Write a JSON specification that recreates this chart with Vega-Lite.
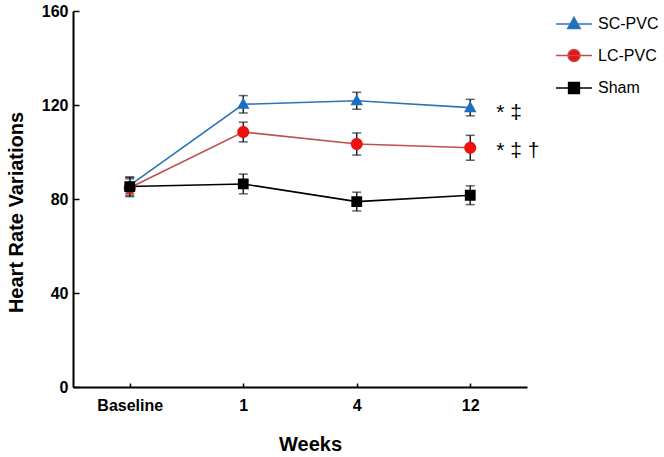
{
  "$schema": "https://vega.github.io/schema/vega-lite/v6.json",
  "width": 454,
  "height": 376,
  "autosize": {"type": "none"},
  "padding": {"left": 73, "top": 11, "right": 137, "bottom": 70},
  "background": "white",
  "config": {
    "view": {"stroke": null},
    "font": "Liberation Sans",
    "axis": {"domainColor": "#000", "domainWidth": 2, "tickColor": "#000", "tickWidth": 1.5, "labelColor": "#000", "titleColor": "#000", "grid": false, "labelFontWeight": "bold", "labelFontSize": 16, "titleFontSize": 20, "titleFontWeight": "bold", "labelFont": "Liberation Sans", "titleFont": "Liberation Sans"},
    "legend": {"title": null, "orient": "none", "legendX": 488, "legendY": 0, "symbolSize": 576, "labelFontSize": 16, "labelFont": "Liberation Sans", "labelColor": "#000", "labelOffset": 11, "rowPadding": 10.5, "symbolStrokeWidth": 1.5, "symbolOpacity": 1}
  },
  "datasets": {
    "hr": [
      {"series": "SC-PVC", "week": "Baseline", "v": 85.8, "lo": 82.3, "hi": 89.3},
      {"series": "SC-PVC", "week": "1", "v": 120.3, "lo": 116.6, "hi": 124.0},
      {"series": "SC-PVC", "week": "4", "v": 121.8, "lo": 118.2, "hi": 125.4},
      {"series": "SC-PVC", "week": "12", "v": 118.9, "lo": 115.4, "hi": 122.4},
      {"series": "LC-PVC", "week": "Baseline", "v": 84.8, "lo": 81.0, "hi": 88.6},
      {"series": "LC-PVC", "week": "1", "v": 108.5, "lo": 104.3, "hi": 112.7},
      {"series": "LC-PVC", "week": "4", "v": 103.4, "lo": 98.7, "hi": 108.1},
      {"series": "LC-PVC", "week": "12", "v": 101.8, "lo": 96.5, "hi": 107.1},
      {"series": "Sham", "week": "Baseline", "v": 85.3, "lo": 81.5, "hi": 89.3},
      {"series": "Sham", "week": "1", "v": 86.4, "lo": 82.2, "hi": 90.6},
      {"series": "Sham", "week": "4", "v": 78.9, "lo": 74.9, "hi": 82.9},
      {"series": "Sham", "week": "12", "v": 81.6, "lo": 77.6, "hi": 85.6}
    ],
    "notes": [
      {"week": "12", "v": 116.5, "label": "* ‡"},
      {"week": "12", "v": 100.5, "label": "* ‡ †"}
    ]
  },
  "data": {"name": "hr"},
  "encoding": {
    "x": {"field": "week", "type": "ordinal", "sort": ["Baseline", "1", "4", "12"],
      "scale": {"type": "point", "padding": 0.5},
      "axis": {"labelAngle": 0, "tickSize": -4, "labelPadding": 14, "title": "Weeks", "titleX": 237, "titleY": 57, "titleBaseline": "middle"}},
    "y": {"field": "v", "type": "quantitative",
      "scale": {"domain": [0, 160], "nice": false},
      "axis": {"values": [0, 40, 80, 120, 160], "tickSize": -6, "labelPadding": 11, "title": "Heart Rate Variations", "titleX": -57, "titleY": 201, "titleBaseline": "middle"}}
  },
  "layer": [
    {
      "mark": {"type": "line", "strokeWidth": 1.6},
      "encoding": {
        "detail": {"field": "series"},
        "stroke": {"field": "series", "type": "nominal",
          "scale": {"domain": ["SC-PVC", "LC-PVC", "Sham"], "range": ["#2e75b6", "#c0504d", "#000000"]}}
      }
    },
    {
      "mark": {"type": "rule", "strokeWidth": 1.5, "color": "#222"},
      "encoding": {"y": {"field": "lo", "type": "quantitative"}, "y2": {"field": "hi"}, "detail": {"field": "series"}}
    },
    {
      "mark": {"type": "tick", "size": 9, "thickness": 1.5, "color": "#222", "orient": "horizontal"},
      "encoding": {"y": {"field": "lo", "type": "quantitative"}, "detail": {"field": "series"}}
    },
    {
      "mark": {"type": "tick", "size": 9, "thickness": 1.5, "color": "#222", "orient": "horizontal"},
      "encoding": {"y": {"field": "hi", "type": "quantitative"}, "detail": {"field": "series"}}
    },
    {
      "mark": {"type": "point", "filled": true, "opacity": 1, "size": 576},
      "encoding": {
        "fill": {"field": "series", "type": "nominal",
          "scale": {"domain": ["SC-PVC", "LC-PVC", "Sham"], "range": ["#1a6fc4", "#ee1111", "#000000"]},
          "legend": {"encode": {"symbols": {"update": {"strokeWidth": {"value": 1.5}, "stroke": {"signal": "datum.value === 'SC-PVC' ? '#2e75b6' : datum.value === 'LC-PVC' ? '#c0504d' : '#000000'"}}}}}},
        "shape": {"field": "series", "type": "nominal",
          "scale": {"domain": ["SC-PVC", "LC-PVC", "Sham"], "range": [
            "M-1.5,0H1.5M0,-0.55L0.52,0.38H-0.52Z",
            "M-1.5,0H1.5M-0.5,0A0.5,0.5,0,1,0,0.5,0A0.5,0.5,0,1,0,-0.5,0Z",
            "M-1.5,0H1.5M-0.45,-0.45H0.45V0.45H-0.45Z"]}}
      }
    },
    {
      "data": {"name": "notes"},
      "mark": {"type": "text", "align": "left", "baseline": "middle", "dx": 26, "fontSize": 21, "font": "Liberation Sans", "color": "#000"},
      "encoding": {"text": {"field": "label"}}
    }
  ]
}
